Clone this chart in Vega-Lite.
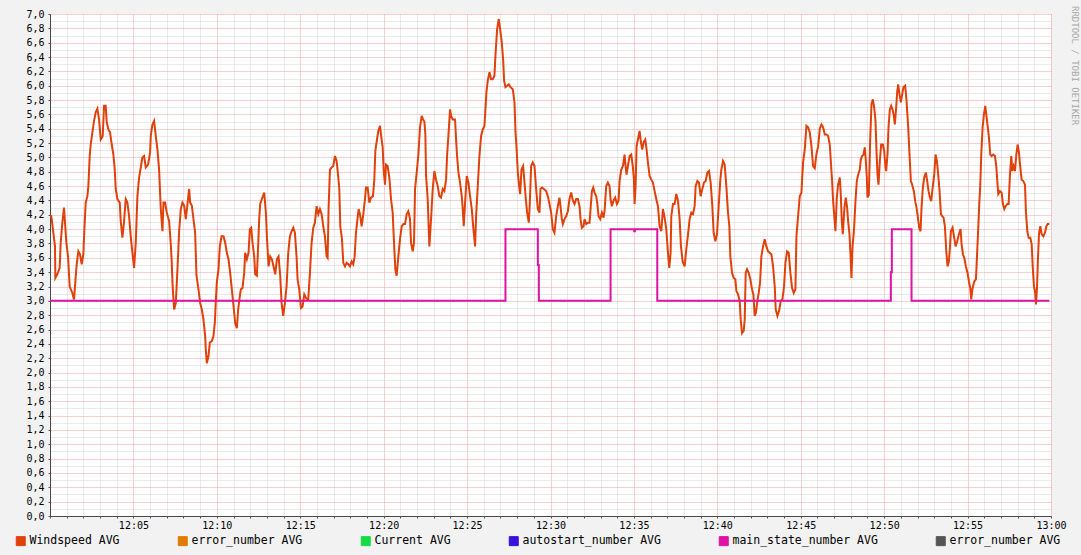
{
"$schema": "https://vega.github.io/schema/vega-lite/v6.json",
"width": 1001,
"height": 502,
"autosize": "none",
"padding": {"left": 50, "top": 14, "right": 30, "bottom": 39},
"background": "#F2F2F2",
"view": {"fill": "#FFFFFF", "stroke": null},
"title": {"text": "RRDTOOL / TOBI OETIKER", "orient": "right", "anchor": "start", "font": "DejaVu Sans Mono", "fontSize": 9, "fontWeight": "normal", "color": "#A8A8A8", "offset": 4, "dx": -3},
"datasets": {
"wind": [
{"t":0,"v":4.18},{"t":0.08,"v":4.18},{"t":0.2,"v":3.95},{"t":0.3,"v":3.76},{"t":0.32,"v":3.32},{"t":0.44,"v":3.37},{"t":0.58,"v":3.46},{"t":0.64,"v":3.81},{"t":0.74,"v":4.09},{"t":0.84,"v":4.3},{"t":0.9,"v":4.09},{"t":0.98,"v":3.81},{"t":1.08,"v":3.62},{"t":1.18,"v":3.2},{"t":1.34,"v":3.11},{"t":1.44,"v":3.02},{"t":1.54,"v":3.33},{"t":1.6,"v":3.51},{"t":1.7,"v":3.69},{"t":1.8,"v":3.65},{"t":1.9,"v":3.51},{"t":2,"v":3.65},{"t":2.06,"v":4},{"t":2.14,"v":4.37},{"t":2.24,"v":4.46},{"t":2.3,"v":4.6},{"t":2.38,"v":5.02},{"t":2.44,"v":5.18},{"t":2.54,"v":5.35},{"t":2.64,"v":5.51},{"t":2.74,"v":5.63},{"t":2.84,"v":5.68},{"t":2.94,"v":5.53},{"t":3.04,"v":5.25},{"t":3.16,"v":5.3},{"t":3.24,"v":5.72},{"t":3.34,"v":5.72},{"t":3.4,"v":5.49},{"t":3.5,"v":5.39},{"t":3.6,"v":5.35},{"t":3.7,"v":5.18},{"t":3.8,"v":5.04},{"t":3.88,"v":4.83},{"t":3.94,"v":4.56},{"t":4.04,"v":4.42},{"t":4.18,"v":4.37},{"t":4.24,"v":4.11},{"t":4.34,"v":3.88},{"t":4.44,"v":4.11},{"t":4.54,"v":4.42},{"t":4.64,"v":4.37},{"t":4.74,"v":4.18},{"t":4.84,"v":3.9},{"t":4.94,"v":3.67},{"t":5.04,"v":3.46},{"t":5.14,"v":3.81},{"t":5.24,"v":4.46},{"t":5.34,"v":4.72},{"t":5.44,"v":4.86},{"t":5.54,"v":5},{"t":5.64,"v":5.02},{"t":5.74,"v":4.86},{"t":5.88,"v":4.9},{"t":6,"v":5.07},{"t":6.04,"v":5.3},{"t":6.14,"v":5.46},{"t":6.24,"v":5.51},{"t":6.34,"v":5.3},{"t":6.44,"v":5.11},{"t":6.54,"v":4.83},{"t":6.64,"v":4.28},{"t":6.74,"v":3.97},{"t":6.8,"v":4.37},{"t":6.9,"v":4.37},{"t":7,"v":4.23},{"t":7.14,"v":4.11},{"t":7.24,"v":3.79},{"t":7.3,"v":3.53},{"t":7.34,"v":3.26},{"t":7.4,"v":3.02},{"t":7.44,"v":2.88},{"t":7.54,"v":2.97},{"t":7.64,"v":3.44},{"t":7.74,"v":3.97},{"t":7.84,"v":4.28},{"t":7.94,"v":4.37},{"t":8.04,"v":4.33},{"t":8.14,"v":4.14},{"t":8.24,"v":4.35},{"t":8.34,"v":4.56},{"t":8.4,"v":4.37},{"t":8.5,"v":4.33},{"t":8.6,"v":4.14},{"t":8.7,"v":3.95},{"t":8.78,"v":3.35},{"t":8.9,"v":3.16},{"t":9,"v":2.97},{"t":9.1,"v":2.88},{"t":9.2,"v":2.74},{"t":9.3,"v":2.51},{"t":9.34,"v":2.32},{"t":9.4,"v":2.13},{"t":9.5,"v":2.23},{"t":9.58,"v":2.42},{"t":9.7,"v":2.44},{"t":9.8,"v":2.51},{"t":9.88,"v":2.7},{"t":9.94,"v":3},{"t":10,"v":3.26},{"t":10.1,"v":3.44},{"t":10.18,"v":3.76},{"t":10.28,"v":3.9},{"t":10.4,"v":3.9},{"t":10.5,"v":3.81},{"t":10.6,"v":3.67},{"t":10.7,"v":3.58},{"t":10.8,"v":3.39},{"t":10.9,"v":3.16},{"t":11,"v":2.93},{"t":11.1,"v":2.69},{"t":11.2,"v":2.62},{"t":11.28,"v":2.88},{"t":11.38,"v":3.07},{"t":11.44,"v":3.16},{"t":11.54,"v":3.18},{"t":11.64,"v":3.39},{"t":11.7,"v":3.67},{"t":11.8,"v":3.58},{"t":11.9,"v":3.67},{"t":11.98,"v":4},{"t":12.06,"v":4.02},{"t":12.14,"v":3.81},{"t":12.24,"v":3.62},{"t":12.3,"v":3.37},{"t":12.4,"v":3.35},{"t":12.46,"v":3.67},{"t":12.54,"v":4.14},{"t":12.6,"v":4.35},{"t":12.7,"v":4.42},{"t":12.84,"v":4.51},{"t":12.94,"v":4.23},{"t":13,"v":3.9},{"t":13.1,"v":3.48},{"t":13.2,"v":3.62},{"t":13.3,"v":3.58},{"t":13.4,"v":3.48},{"t":13.5,"v":3.37},{"t":13.6,"v":3.58},{"t":13.7,"v":3.62},{"t":13.8,"v":3.35},{"t":13.88,"v":2.97},{"t":13.98,"v":2.79},{"t":14.08,"v":2.97},{"t":14.18,"v":3.2},{"t":14.28,"v":3.67},{"t":14.38,"v":3.9},{"t":14.48,"v":3.97},{"t":14.58,"v":4.02},{"t":14.68,"v":3.95},{"t":14.78,"v":3.61},{"t":14.84,"v":3.3},{"t":14.94,"v":3.16},{"t":15.04,"v":2.9},{"t":15.14,"v":2.92},{"t":15.24,"v":3.09},{"t":15.34,"v":3.04},{"t":15.48,"v":3.02},{"t":15.58,"v":3.39},{"t":15.68,"v":3.81},{"t":15.78,"v":4.02},{"t":15.88,"v":4.09},{"t":15.98,"v":4.32},{"t":16.08,"v":4.21},{"t":16.18,"v":4.28},{"t":16.28,"v":4.21},{"t":16.38,"v":4.04},{"t":16.48,"v":3.9},{"t":16.58,"v":3.62},{"t":16.64,"v":3.6},{"t":16.7,"v":4.3},{"t":16.78,"v":4.83},{"t":16.88,"v":4.86},{"t":16.98,"v":4.88},{"t":17.08,"v":5.02},{"t":17.18,"v":4.95},{"t":17.28,"v":4.72},{"t":17.34,"v":4.56},{"t":17.4,"v":4.04},{"t":17.5,"v":3.86},{"t":17.58,"v":3.53},{"t":17.68,"v":3.48},{"t":17.78,"v":3.53},{"t":17.88,"v":3.51},{"t":17.98,"v":3.48},{"t":18.08,"v":3.55},{"t":18.18,"v":3.51},{"t":18.26,"v":3.62},{"t":18.34,"v":3.95},{"t":18.44,"v":4.16},{"t":18.5,"v":4.28},{"t":18.58,"v":4.21},{"t":18.68,"v":4.04},{"t":18.78,"v":4.21},{"t":18.88,"v":4.42},{"t":18.94,"v":4.58},{"t":19.04,"v":4.58},{"t":19.14,"v":4.37},{"t":19.24,"v":4.44},{"t":19.36,"v":4.46},{"t":19.44,"v":4.69},{"t":19.5,"v":5.09},{"t":19.6,"v":5.25},{"t":19.68,"v":5.37},{"t":19.78,"v":5.44},{"t":19.86,"v":5.28},{"t":19.94,"v":5.14},{"t":20,"v":4.83},{"t":20.08,"v":4.62},{"t":20.14,"v":4.9},{"t":20.24,"v":4.88},{"t":20.34,"v":4.72},{"t":20.44,"v":4.42},{"t":20.54,"v":4.23},{"t":20.62,"v":3.81},{"t":20.7,"v":3.44},{"t":20.78,"v":3.35},{"t":20.88,"v":3.62},{"t":20.98,"v":3.86},{"t":21.08,"v":4.04},{"t":21.18,"v":4.07},{"t":21.28,"v":4.07},{"t":21.38,"v":4.21},{"t":21.48,"v":4.25},{"t":21.58,"v":4.14},{"t":21.64,"v":3.81},{"t":21.74,"v":3.69},{"t":21.82,"v":3.81},{"t":21.88,"v":4.56},{"t":21.98,"v":4.79},{"t":22.08,"v":5.04},{"t":22.18,"v":5.42},{"t":22.28,"v":5.58},{"t":22.36,"v":5.53},{"t":22.44,"v":5.5},{"t":22.5,"v":5.32},{"t":22.54,"v":4.75},{"t":22.64,"v":4.42},{"t":22.68,"v":4.14},{"t":22.74,"v":3.76},{"t":22.84,"v":4.14},{"t":22.94,"v":4.56},{"t":23.04,"v":4.81},{"t":23.14,"v":4.69},{"t":23.24,"v":4.6},{"t":23.34,"v":4.46},{"t":23.44,"v":4.44},{"t":23.54,"v":4.56},{"t":23.64,"v":4.53},{"t":23.74,"v":4.69},{"t":23.8,"v":5.02},{"t":23.88,"v":5.3},{"t":23.98,"v":5.67},{"t":24.04,"v":5.58},{"t":24.14,"v":5.53},{"t":24.28,"v":5.53},{"t":24.34,"v":5.25},{"t":24.4,"v":5.02},{"t":24.48,"v":4.79},{"t":24.58,"v":4.65},{"t":24.68,"v":4.46},{"t":24.74,"v":4.28},{"t":24.8,"v":4.04},{"t":24.88,"v":4.37},{"t":24.98,"v":4.74},{"t":25.08,"v":4.65},{"t":25.18,"v":4.46},{"t":25.28,"v":4.28},{"t":25.38,"v":4},{"t":25.48,"v":3.76},{"t":25.54,"v":4.18},{"t":25.64,"v":4.6},{"t":25.74,"v":5.02},{"t":25.84,"v":5.3},{"t":25.94,"v":5.39},{"t":26.04,"v":5.44},{"t":26.1,"v":5.67},{"t":26.16,"v":5.91},{"t":26.24,"v":6.07},{"t":26.34,"v":6.19},{"t":26.44,"v":6.09},{"t":26.54,"v":6.09},{"t":26.64,"v":6.14},{"t":26.7,"v":6.42},{"t":26.8,"v":6.79},{"t":26.9,"v":6.93},{"t":26.98,"v":6.79},{"t":27.08,"v":6.6},{"t":27.16,"v":6.37},{"t":27.22,"v":6.07},{"t":27.3,"v":5.98},{"t":27.4,"v":6},{"t":27.5,"v":6.02},{"t":27.6,"v":5.98},{"t":27.74,"v":5.95},{"t":27.84,"v":5.77},{"t":27.9,"v":5.37},{"t":27.98,"v":5.07},{"t":28.04,"v":4.79},{"t":28.12,"v":4.6},{"t":28.18,"v":4.49},{"t":28.26,"v":4.83},{"t":28.36,"v":4.88},{"t":28.44,"v":4.65},{"t":28.52,"v":4.42},{"t":28.6,"v":4.23},{"t":28.7,"v":4.09},{"t":28.76,"v":4.37},{"t":28.84,"v":4.88},{"t":28.94,"v":4.93},{"t":29.04,"v":4.88},{"t":29.14,"v":4.56},{"t":29.24,"v":4.28},{"t":29.34,"v":4.23},{"t":29.4,"v":4.56},{"t":29.5,"v":4.58},{"t":29.6,"v":4.56},{"t":29.74,"v":4.53},{"t":29.84,"v":4.46},{"t":29.94,"v":4.35},{"t":30.04,"v":4.23},{"t":30.14,"v":4},{"t":30.24,"v":3.95},{"t":30.34,"v":4.18},{"t":30.44,"v":4.32},{"t":30.54,"v":4.44},{"t":30.6,"v":4.32},{"t":30.68,"v":4.14},{"t":30.74,"v":4.07},{"t":30.84,"v":4.14},{"t":30.94,"v":4.18},{"t":31.04,"v":4.25},{"t":31.14,"v":4.42},{"t":31.24,"v":4.51},{"t":31.34,"v":4.4},{"t":31.44,"v":4.35},{"t":31.54,"v":4.42},{"t":31.64,"v":4.42},{"t":31.74,"v":4.32},{"t":31.8,"v":4.14},{"t":31.88,"v":4.02},{"t":31.98,"v":4.04},{"t":32.04,"v":4.14},{"t":32.14,"v":4.07},{"t":32.24,"v":4.09},{"t":32.34,"v":4.09},{"t":32.4,"v":4.28},{"t":32.48,"v":4.53},{"t":32.56,"v":4.58},{"t":32.64,"v":4.51},{"t":32.74,"v":4.46},{"t":32.8,"v":4.37},{"t":32.88,"v":4.18},{"t":32.98,"v":4.14},{"t":33.08,"v":4.23},{"t":33.18,"v":4.16},{"t":33.24,"v":4.25},{"t":33.34,"v":4.6},{"t":33.44,"v":4.65},{"t":33.54,"v":4.6},{"t":33.6,"v":4.42},{"t":33.68,"v":4.32},{"t":33.78,"v":4.4},{"t":33.88,"v":4.44},{"t":33.98,"v":4.35},{"t":34.08,"v":4.4},{"t":34.14,"v":4.67},{"t":34.24,"v":4.83},{"t":34.34,"v":4.88},{"t":34.44,"v":5.04},{"t":34.5,"v":4.88},{"t":34.56,"v":4.76},{"t":34.64,"v":4.88},{"t":34.74,"v":5.02},{"t":34.84,"v":5.04},{"t":34.94,"v":4.86},{"t":35,"v":4.69},{"t":35.04,"v":4.35},{"t":35.1,"v":4.6},{"t":35.16,"v":5.16},{"t":35.24,"v":5.25},{"t":35.34,"v":5.37},{"t":35.42,"v":5.21},{"t":35.5,"v":5.11},{"t":35.58,"v":5.21},{"t":35.68,"v":5.25},{"t":35.76,"v":5.11},{"t":35.84,"v":4.93},{"t":35.94,"v":4.74},{"t":36.04,"v":4.69},{"t":36.14,"v":4.65},{"t":36.24,"v":4.53},{"t":36.34,"v":4.42},{"t":36.44,"v":4.32},{"t":36.54,"v":4.04},{"t":36.64,"v":3.97},{"t":36.74,"v":4.28},{"t":36.84,"v":4.16},{"t":36.94,"v":4},{"t":37.04,"v":3.67},{"t":37.12,"v":3.46},{"t":37.2,"v":3.67},{"t":37.24,"v":4.18},{"t":37.34,"v":4.35},{"t":37.44,"v":4.35},{"t":37.54,"v":4.49},{"t":37.64,"v":4.4},{"t":37.74,"v":4.14},{"t":37.82,"v":3.76},{"t":37.92,"v":3.55},{"t":38.04,"v":3.48},{"t":38.14,"v":3.72},{"t":38.24,"v":3.92},{"t":38.34,"v":4.14},{"t":38.44,"v":4.23},{"t":38.54,"v":4.21},{"t":38.64,"v":4.32},{"t":38.7,"v":4.6},{"t":38.8,"v":4.67},{"t":38.9,"v":4.65},{"t":39,"v":4.46},{"t":39.1,"v":4.56},{"t":39.2,"v":4.65},{"t":39.3,"v":4.67},{"t":39.4,"v":4.79},{"t":39.5,"v":4.81},{"t":39.6,"v":4.65},{"t":39.7,"v":4.32},{"t":39.78,"v":3.95},{"t":39.88,"v":3.83},{"t":39.98,"v":3.93},{"t":40.08,"v":4.32},{"t":40.18,"v":4.69},{"t":40.24,"v":4.83},{"t":40.34,"v":4.95},{"t":40.44,"v":4.9},{"t":40.54,"v":4.6},{"t":40.64,"v":4.23},{"t":40.72,"v":4.04},{"t":40.78,"v":3.62},{"t":40.88,"v":3.39},{"t":40.98,"v":3.32},{"t":41.08,"v":3.3},{"t":41.14,"v":3.14},{"t":41.24,"v":3.09},{"t":41.34,"v":3},{"t":41.4,"v":2.74},{"t":41.48,"v":2.55},{"t":41.58,"v":2.58},{"t":41.64,"v":2.74},{"t":41.7,"v":3.39},{"t":41.78,"v":3.44},{"t":41.88,"v":3.39},{"t":41.98,"v":3.3},{"t":42.08,"v":3.16},{"t":42.16,"v":3.09},{"t":42.24,"v":2.79},{"t":42.32,"v":2.84},{"t":42.4,"v":3},{"t":42.48,"v":3.11},{"t":42.56,"v":3.25},{"t":42.64,"v":3.62},{"t":42.74,"v":3.76},{"t":42.84,"v":3.86},{"t":42.94,"v":3.76},{"t":43.04,"v":3.69},{"t":43.14,"v":3.67},{"t":43.24,"v":3.65},{"t":43.34,"v":3.48},{"t":43.44,"v":3.2},{"t":43.5,"v":2.88},{"t":43.6,"v":2.79},{"t":43.7,"v":2.86},{"t":43.8,"v":3},{"t":43.9,"v":3.02},{"t":44,"v":3.2},{"t":44.08,"v":3.53},{"t":44.18,"v":3.69},{"t":44.28,"v":3.67},{"t":44.38,"v":3.39},{"t":44.48,"v":3.18},{"t":44.58,"v":3.11},{"t":44.68,"v":3.16},{"t":44.74,"v":3.9},{"t":44.84,"v":4.18},{"t":44.94,"v":4.46},{"t":45.04,"v":4.51},{"t":45.14,"v":4.93},{"t":45.24,"v":5.11},{"t":45.34,"v":5.44},{"t":45.44,"v":5.42},{"t":45.54,"v":5.35},{"t":45.64,"v":5.16},{"t":45.74,"v":4.88},{"t":45.84,"v":4.85},{"t":45.94,"v":5.05},{"t":46.04,"v":5.15},{"t":46.14,"v":5.4},{"t":46.24,"v":5.46},{"t":46.34,"v":5.42},{"t":46.44,"v":5.32},{"t":46.54,"v":5.32},{"t":46.64,"v":5.3},{"t":46.74,"v":5.18},{"t":46.8,"v":4.95},{"t":46.88,"v":4.67},{"t":46.94,"v":4.39},{"t":47,"v":4.21},{"t":47.08,"v":3.97},{"t":47.16,"v":4.44},{"t":47.24,"v":4.62},{"t":47.34,"v":4.72},{"t":47.4,"v":4.48},{"t":47.46,"v":4.11},{"t":47.52,"v":3.93},{"t":47.62,"v":4.3},{"t":47.7,"v":4.44},{"t":47.78,"v":4.3},{"t":47.84,"v":4.11},{"t":47.92,"v":3.93},{"t":47.98,"v":3.65},{"t":48.04,"v":3.32},{"t":48.1,"v":3.74},{"t":48.2,"v":4.02},{"t":48.28,"v":4.39},{"t":48.36,"v":4.67},{"t":48.44,"v":4.76},{"t":48.54,"v":4.83},{"t":48.6,"v":4.97},{"t":48.68,"v":5.02},{"t":48.76,"v":5.04},{"t":48.84,"v":5.14},{"t":48.9,"v":4.95},{"t":48.96,"v":4.72},{"t":49,"v":4.44},{"t":49.08,"v":4.48},{"t":49.16,"v":5.23},{"t":49.24,"v":5.74},{"t":49.32,"v":5.81},{"t":49.4,"v":5.7},{"t":49.48,"v":5.51},{"t":49.54,"v":5.09},{"t":49.6,"v":4.76},{"t":49.66,"v":4.62},{"t":49.74,"v":4.95},{"t":49.82,"v":5.18},{"t":49.92,"v":5.18},{"t":50,"v":5.09},{"t":50.08,"v":4.86},{"t":50.12,"v":4.81},{"t":50.2,"v":5.04},{"t":50.26,"v":5.42},{"t":50.34,"v":5.67},{"t":50.42,"v":5.72},{"t":50.5,"v":5.67},{"t":50.58,"v":5.58},{"t":50.64,"v":5.46},{"t":50.72,"v":5.7},{"t":50.78,"v":5.91},{"t":50.84,"v":6.02},{"t":50.92,"v":5.88},{"t":51,"v":5.77},{"t":51.08,"v":5.88},{"t":51.16,"v":5.98},{"t":51.26,"v":6},{"t":51.34,"v":5.79},{"t":51.44,"v":5.42},{"t":51.52,"v":5.04},{"t":51.6,"v":4.67},{"t":51.68,"v":4.62},{"t":51.78,"v":4.53},{"t":51.86,"v":4.39},{"t":51.94,"v":4.3},{"t":52.02,"v":4.16},{"t":52.1,"v":4.02},{"t":52.18,"v":3.97},{"t":52.24,"v":4.3},{"t":52.32,"v":4.58},{"t":52.4,"v":4.72},{"t":52.5,"v":4.79},{"t":52.58,"v":4.67},{"t":52.66,"v":4.53},{"t":52.74,"v":4.44},{"t":52.82,"v":4.39},{"t":52.9,"v":4.56},{"t":53,"v":4.76},{"t":53.08,"v":5.04},{"t":53.16,"v":4.95},{"t":53.24,"v":4.76},{"t":53.32,"v":4.53},{"t":53.4,"v":4.21},{"t":53.48,"v":4.18},{"t":53.56,"v":4.16},{"t":53.64,"v":4.04},{"t":53.72,"v":3.7},{"t":53.8,"v":3.48},{"t":53.88,"v":3.55},{"t":53.94,"v":3.74},{"t":54,"v":3.97},{"t":54.1,"v":4.02},{"t":54.2,"v":3.88},{"t":54.28,"v":3.76},{"t":54.38,"v":3.83},{"t":54.48,"v":3.93},{"t":54.58,"v":4},{"t":54.64,"v":3.79},{"t":54.72,"v":3.65},{"t":54.8,"v":3.6},{"t":54.9,"v":3.48},{"t":55,"v":3.39},{"t":55.08,"v":3.27},{"t":55.16,"v":3.18},{"t":55.22,"v":3.02},{"t":55.3,"v":3.18},{"t":55.4,"v":3.27},{"t":55.5,"v":3.3},{"t":55.56,"v":3.6},{"t":55.64,"v":4.02},{"t":55.7,"v":4.35},{"t":55.76,"v":4.62},{"t":55.82,"v":5.04},{"t":55.9,"v":5.42},{"t":55.98,"v":5.6},{"t":56.06,"v":5.72},{"t":56.12,"v":5.6},{"t":56.2,"v":5.44},{"t":56.28,"v":5.28},{"t":56.36,"v":5.04},{"t":56.44,"v":5.02},{"t":56.54,"v":5.04},{"t":56.64,"v":5.02},{"t":56.72,"v":4.88},{"t":56.78,"v":4.67},{"t":56.84,"v":4.49},{"t":56.94,"v":4.53},{"t":57.04,"v":4.51},{"t":57.12,"v":4.35},{"t":57.2,"v":4.28},{"t":57.28,"v":4.32},{"t":57.38,"v":4.35},{"t":57.46,"v":4.35},{"t":57.54,"v":4.76},{"t":57.62,"v":5.02},{"t":57.68,"v":4.81},{"t":57.76,"v":4.88},{"t":57.84,"v":4.81},{"t":57.92,"v":5.04},{"t":58,"v":5.18},{"t":58.08,"v":5.07},{"t":58.16,"v":4.86},{"t":58.24,"v":4.69},{"t":58.34,"v":4.67},{"t":58.44,"v":4.62},{"t":58.5,"v":4.23},{"t":58.58,"v":3.97},{"t":58.66,"v":3.88},{"t":58.76,"v":3.88},{"t":58.84,"v":3.79},{"t":58.92,"v":3.41},{"t":58.98,"v":3.2},{"t":59.04,"v":3.13},{"t":59.1,"v":2.95},{"t":59.16,"v":3.18},{"t":59.22,"v":3.6},{"t":59.28,"v":3.93},{"t":59.36,"v":4.04},{"t":59.44,"v":3.93},{"t":59.54,"v":3.9},{"t":59.64,"v":3.95},{"t":59.72,"v":4.04},{"t":59.8,"v":4.07},{"t":59.9,"v":4.07}
],
"state": [
{"t":0,"v":3},{"t":27.3,"v":4},{"t":29.24,"v":3.5},{"t":29.3,"v":3},{"t":33.6,"v":4},{"t":35.02,"v":3.97},{"t":35.06,"v":4},{"t":36.4,"v":3},{"t":50.4,"v":3.4},{"t":50.46,"v":4},{"t":51.64,"v":3},{"t":59.9,"v":3}
]
},
"encoding": {
"x": {"field": "t", "type": "quantitative", "scale": {"domain": [0, 60], "nice": false, "zero": false},
 "axis": {"title": null, "values": [0,1,2,3,4,5,6,7,8,9,10,11,12,13,14,15,16,17,18,19,20,21,22,23,24,25,26,27,28,29,30,31,32,33,34,35,36,37,38,39,40,41,42,43,44,45,46,47,48,49,50,51,52,53,54,55,56,57,58,59,60],
  "labelExpr": "datum.value === 60 ? '13:00' : (datum.value > 0 && datum.value % 5 === 0 ? '12:' + (datum.value < 10 ? '0' : '') + datum.value : '')",
  "labelFont": "DejaVu Sans Mono", "labelFontSize": 10, "labelColor": "#000000", "labelPadding": 2, "labelOverlap": false, "labelFlush": false, "labelBound": false,
  "tickSize": 2, "tickColor": "#555555", "domainColor": "#4A4A4A", "domainWidth": 1,
  "grid": true, "gridColor": {"condition": {"test": "datum.value % 5 === 0", "value": "#F0A0A0"}, "value": "#D4D4D4"}, "gridDash": [1, 1], "gridWidth": 1}},
"y": {"field": "v", "type": "quantitative", "scale": {"domain": [0, 7], "nice": false, "zero": true},
 "axis": {"title": null, "values": [0,0.1,0.2,0.3,0.4,0.5,0.6,0.7,0.8,0.9,1,1.1,1.2,1.3,1.4,1.5,1.6,1.7,1.8,1.9,2,2.1,2.2,2.3,2.4,2.5,2.6,2.7,2.8,2.9,3,3.1,3.2,3.3,3.4,3.5,3.6,3.7,3.8,3.9,4,4.1,4.2,4.3,4.4,4.5,4.6,4.7,4.8,4.9,5,5.1,5.2,5.3,5.4,5.5,5.6,5.7,5.8,5.9,6,6.1,6.2,6.3,6.4,6.5,6.6,6.7,6.8,6.9,7],
  "labelExpr": "abs(datum.value * 5 - round(datum.value * 5)) < 0.001 ? replace(format(datum.value, '.1f'), '.', ',') : ''",
  "labelFont": "DejaVu Sans Mono", "labelFontSize": 10, "labelColor": "#000000", "labelPadding": 4, "labelOverlap": false, "labelFlush": false, "labelBound": false,
  "tickSize": 2, "tickColor": {"condition": {"test": "abs(datum.value * 5 - round(datum.value * 5)) < 0.001", "value": "#555555"}, "value": "transparent"}, "domainColor": "#4A4A4A", "domainWidth": 1,
  "grid": true, "gridColor": {"condition": {"test": "abs(datum.value * 5 - round(datum.value * 5)) < 0.001", "value": "#F0A0A0"}, "value": "#D4D4D4"}, "gridDash": [1, 1], "gridWidth": 1}}
},
"layer": [
{"data": {"name": "wind"}, "mark": {"type": "line", "strokeWidth": 2, "interpolate": "linear"},
 "encoding": {"color": {"datum": "Windspeed AVG", "type": "nominal",
  "scale": {"domain": ["Windspeed AVG", "error_number AVG", "Current AVG", "autostart_number AVG", "main_state_number AVG", "error_number AVG (2)"], "range": ["#E0400A", "#E07A00", "#14DC44", "#3A10DD", "#DE12A4", "#555555"]},
  "legend": {"title": null, "orient": "none", "legendX": -35, "legendY": 521, "direction": "horizontal", "columns": 6, "columnPadding": 56, "gridAlign": "each", "symbolType": "square", "symbolSize": 81, "symbolStrokeColor": "#000000", "symbolStrokeWidth": 1, "labelFont": "DejaVu Sans Mono", "labelFontSize": 11.5, "labelColor": "#000000", "labelOffset": 3, "labelLimit": 300, "padding": 0,
   "labelExpr": "replace(datum.label, ' (2)', '')",
   "encode": {"symbols": {"update": {"fill": {"scale": "color", "field": "value"}, "stroke": {"value": "#000000"}, "strokeWidth": {"value": 1}, "opacity": {"value": 1}}}}}}}},
{"data": {"name": "state"}, "mark": {"type": "line", "strokeWidth": 2, "interpolate": "step-after"},
 "encoding": {"color": {"datum": "main_state_number AVG", "type": "nominal"}}}
]
}
